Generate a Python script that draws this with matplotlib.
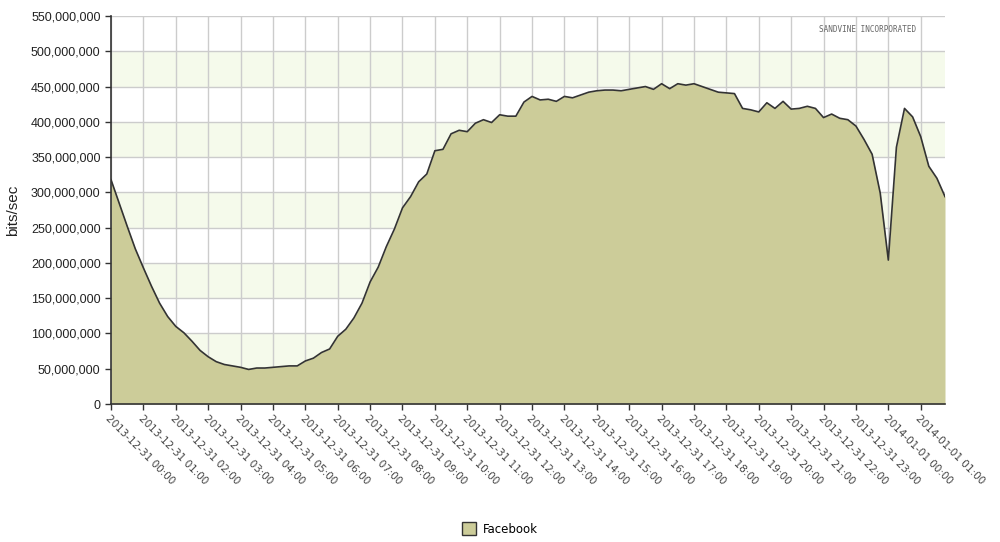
import numpy as np
import matplotlib
matplotlib.use("Agg")
import matplotlib.pyplot as plt
from matplotlib.ticker import FuncFormatter
from matplotlib.patches import Patch

# --- data: Facebook traffic, 15-minute samples starting 2013-12-31 00:00 (millions of bits/sec) ---
facebook_mbps = [
    318, 285, 252, 220, 193, 167, 143, 124, 110, 101,
    89, 76, 67, 60, 56, 54, 52, 49, 51, 51,
    52, 53, 54, 54, 61, 65, 73, 78, 96, 106,
    122, 143, 173, 194, 223, 248, 278, 294, 315, 326,
    359, 361, 383, 388, 386, 398, 403, 399, 410, 408,
    408, 428, 436, 431, 432, 429, 436, 434, 438, 442,
    444, 445, 445, 444, 446, 448, 450, 446, 454, 447,
    454, 452, 454, 450, 446, 442, 441, 440, 419, 417,
    414, 427, 419, 429, 418, 419, 422, 419, 406, 411,
    405, 403, 394, 375, 354, 299, 204, 364, 419, 407,
    379, 337, 320, 294,
]
tick_labels = ["2013-12-31 %02d:00" % h for h in range(24)] + \
              ["2014-01-01 00:00", "2014-01-01 01:00"]
y_ticks = list(range(0, 550_000_001, 50_000_000))
series_name = "Facebook"

# --- style ---
FILL = "#cccc99"
LINE = "#333333"
GRID = "#cccccc"
BAND = "#f5faeb"

hours = np.arange(len(facebook_mbps)) * 0.25
values = np.array(facebook_mbps) * 1e6

fig = plt.figure(figsize=(10, 5.42), dpi=100)
ax = fig.add_axes([0.111, 0.2546, 0.834, 0.7159])

# alternating light green bands
for lo in range(50_000_000, 550_000_000, 100_000_000):
    ax.axhspan(lo, lo + 50_000_000, color=BAND, zorder=0, lw=0)

ax.fill_between(hours, values, 0, color=FILL, zorder=2, lw=0)
ax.plot(hours, values, color=LINE, lw=1.2, zorder=3)

ax.set_xlim(0, hours[-1])
ax.set_ylim(0, 550_000_000)
ax.set_xticks(range(len(tick_labels)))
ax.set_xticklabels(tick_labels, rotation=-45, ha="left", va="top",
                   rotation_mode="anchor", fontsize=7.5, color="#444444")
ax.set_yticks(y_ticks)
ax.yaxis.set_major_formatter(FuncFormatter(lambda v, p: f"{int(v):,}"))
for lbl in ax.get_yticklabels():
    lbl.set_fontfamily("Liberation Sans")
    lbl.set_fontsize(9)
    lbl.set_color("#222222")

ax.grid(True, color=GRID, lw=1, zorder=1)
ax.set_axisbelow(True)
ax.tick_params(axis="both", direction="out", length=4, width=1, color="#333333")
ax.tick_params(axis="x", pad=3)
for s in ("top", "right"):
    ax.spines[s].set_visible(False)
for s in ("left", "bottom"):
    ax.spines[s].set_color("#333333")
    ax.spines[s].set_linewidth(1.2)
    ax.spines[s].set_zorder(4)

ax.set_ylabel("bits/sec", fontsize=11, family="Liberation Sans", color="#222222", labelpad=8)

fig.text(0.868, 0.945, "SANDVINE INCORPORATED", fontsize=5.5, family="DejaVu Sans Mono",
         color="#666666", ha="center", va="center")

fig.legend(handles=[Patch(facecolor=FILL, edgecolor=LINE, lw=1, label=series_name)],
           loc="center", bbox_to_anchor=(0.5, 1 - 529 / 542), frameon=False,
           handlelength=1.2, handleheight=1.2, handletextpad=0.6,
           prop={"family": "DejaVu Sans", "size": 8.5})

fig.savefig("out.png", dpi=100)
